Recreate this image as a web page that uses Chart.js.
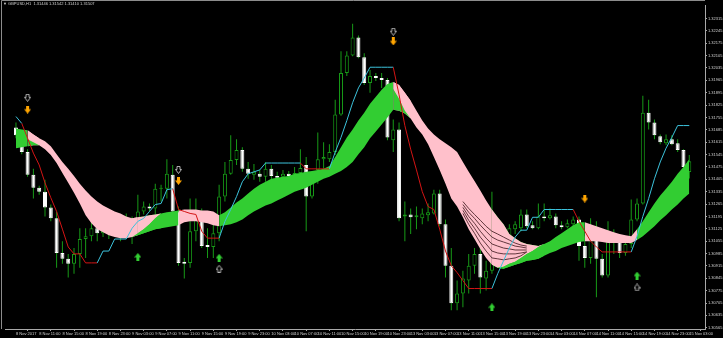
<!DOCTYPE html>
<html>
<head>
<meta charset="utf-8">
<script src="https://cdn.jsdelivr.net/npm/chart.js@4.4.1/dist/chart.umd.min.js"></script>
<style>
    html, body { margin: 0; padding: 0; background: #000; }
    #chart { display: block; background: #000; }
</style>
</head>
<body>
<canvas id="chart" width="723" height="338"></canvas>
<script>
// GBPUSD H1 candles, bar 0 = 8 Nov 2017 07:00 (weekend skipped after bar 64)
const openPrices = [
    1.31698, 1.31648, 1.31559, 1.31430, 1.31357, 1.31335, 1.31246, 1.31184, 1.30988, 1.30955,
    1.30927, 1.30983, 1.31067, 1.31083, 1.31128, 1.31100, 1.31139, 1.31111, 1.31156, 1.31134,
    1.31167, 1.31145, 1.31223, 1.31251, 1.31240, 1.31352, 1.31352, 1.31430, 1.31223, 1.30938,
    1.30932, 1.31111, 1.31195, 1.31033, 1.31022, 1.31100, 1.31307, 1.31436, 1.31514, 1.31570,
    1.31464, 1.31430, 1.31436, 1.31419, 1.31464, 1.31424, 1.31419, 1.31436, 1.31424, 1.31441,
    1.31486, 1.31307, 1.31458, 1.31519, 1.31519, 1.31559, 1.31771, 1.32006, 1.32106, 1.32207,
    1.32095, 1.31950, 1.31989, 1.31978, 1.31967, 1.31626, 1.31687, 1.31195, 1.31206, 1.31190,
    1.31184, 1.31201, 1.31212, 1.31324, 1.31150, 1.30916, 1.30703, 1.30759, 1.30832, 1.30916,
    1.30983, 1.30843, 1.30888, 1.31083, 1.30999, 1.31055, 1.31123, 1.31128, 1.31206, 1.31145,
    1.31128, 1.31195, 1.31184, 1.31195, 1.31145, 1.31134, 1.31150, 1.31178, 1.31027, 1.30960,
    1.31123, 1.30955, 1.30860, 1.31100, 1.31055, 1.30988, 1.31039, 1.31178, 1.31268, 1.31782,
    1.31726, 1.31648, 1.31609, 1.31631, 1.31609, 1.31570, 1.31446
];
const highPrices = [
    1.31726, 1.31670, 1.31575, 1.31464, 1.31368, 1.31402, 1.31262, 1.31223, 1.31055, 1.30983,
    1.31016, 1.31128, 1.31128, 1.31184, 1.31167, 1.31178, 1.31190, 1.31201, 1.31206, 1.31212,
    1.31195, 1.31318, 1.31279, 1.31268, 1.31380, 1.31374, 1.31519, 1.31486, 1.31251, 1.30960,
    1.31296, 1.31296, 1.31240, 1.31128, 1.31206, 1.31374, 1.31503, 1.31654, 1.31631, 1.31586,
    1.31503, 1.31491, 1.31458, 1.31503, 1.31486, 1.31447, 1.31458, 1.31452, 1.31475, 1.31575,
    1.31531, 1.31436, 1.31670, 1.31614, 1.31603, 1.31855, 1.32129, 1.32129, 1.32285, 1.32218,
    1.32118, 1.32023, 1.32006, 1.32006, 1.31978, 1.31743, 1.31726, 1.31279, 1.31240, 1.31251,
    1.31240, 1.31268, 1.31346, 1.31346, 1.31178, 1.31016, 1.30832, 1.30888, 1.30983, 1.31016,
    1.31016, 1.30944, 1.31335, 1.31139, 1.31083, 1.31150, 1.31167, 1.31234, 1.31234, 1.31167,
    1.31268, 1.31268, 1.31240, 1.31212, 1.31167, 1.31178, 1.31195, 1.31195, 1.31083, 1.31184,
    1.31167, 1.30983, 1.31167, 1.31123, 1.31095, 1.31055, 1.31290, 1.31296, 1.31877, 1.31855,
    1.31743, 1.31659, 1.31659, 1.31654, 1.31631, 1.31575, 1.31542
];
const lowPrices = [
    1.31637, 1.31547, 1.31419, 1.31296, 1.31318, 1.31195, 1.31167, 1.30905, 1.30927, 1.30849,
    1.30871, 1.30905, 1.30960, 1.31055, 1.31055, 1.31078, 1.31067, 1.31083, 1.31055, 1.31067,
    1.31039, 1.31111, 1.31206, 1.31223, 1.31206, 1.31279, 1.31296, 1.31212, 1.30916, 1.30843,
    1.30905, 1.31055, 1.31016, 1.30960, 1.30960, 1.31055, 1.31279, 1.31430, 1.31486, 1.31447,
    1.31408, 1.31402, 1.31391, 1.31391, 1.31402, 1.31402, 1.31402, 1.31413, 1.31402, 1.31408,
    1.31111, 1.31296, 1.31380, 1.31464, 1.31503, 1.31542, 1.31765, 1.31989, 1.32101, 1.32090,
    1.31939, 1.31894, 1.31961, 1.31922, 1.31626, 1.31559, 1.31167, 1.31055, 1.31095, 1.31123,
    1.31150, 1.31167, 1.31206, 1.31139, 1.30849, 1.30664, 1.30664, 1.30681, 1.30759, 1.30871,
    1.30759, 1.30776, 1.30871, 1.30972, 1.30955, 1.31039, 1.31095, 1.31111, 1.31128, 1.31123,
    1.31123, 1.31167, 1.31178, 1.31128, 1.31123, 1.31128, 1.31139, 1.30944, 1.30905, 1.30927,
    1.30737, 1.30849, 1.30849, 1.30983, 1.30960, 1.30972, 1.31016, 1.31167, 1.31262, 1.31687,
    1.31631, 1.31603, 1.31598, 1.31598, 1.31559, 1.31458, 1.31410
];
const closePrices = [
    1.31654, 1.31559, 1.31430, 1.31357, 1.31335, 1.31246, 1.31184, 1.30988, 1.30955, 1.30927,
    1.30983, 1.31067, 1.31083, 1.31128, 1.31100, 1.31139, 1.31111, 1.31156, 1.31134, 1.31167,
    1.31145, 1.31223, 1.31251, 1.31240, 1.31352, 1.31357, 1.31436, 1.31223, 1.30932, 1.30927,
    1.31111, 1.31195, 1.31027, 1.31022, 1.31100, 1.31307, 1.31436, 1.31514, 1.31570, 1.31464,
    1.31436, 1.31447, 1.31419, 1.31464, 1.31424, 1.31413, 1.31436, 1.31424, 1.31441, 1.31469,
    1.31307, 1.31391, 1.31519, 1.31531, 1.31559, 1.31771, 1.32006, 1.32106, 1.32207, 1.32095,
    1.31950, 1.31989, 1.31978, 1.31967, 1.31642, 1.31687, 1.31184, 1.31206, 1.31190, 1.31201,
    1.31212, 1.31218, 1.31324, 1.31150, 1.30916, 1.30703, 1.30759, 1.30843, 1.30916, 1.30983,
    1.30849, 1.30888, 1.31083, 1.30999, 1.31055, 1.31128, 1.31150, 1.31206, 1.31139, 1.31128,
    1.31195, 1.31184, 1.31201, 1.31145, 1.31134, 1.31156, 1.31178, 1.31027, 1.30960, 1.31123,
    1.30955, 1.30860, 1.31100, 1.31055, 1.30988, 1.31039, 1.31178, 1.31268, 1.31782, 1.31726,
    1.31654, 1.31614, 1.31631, 1.31603, 1.31570, 1.31475, 1.31507
];

// moving-average ribbon: upper and lower edge
const ribbonTop = [
    1.31693, 1.31687, 1.31682, 1.31659, 1.31637, 1.31620, 1.31592, 1.31547, 1.31503, 1.31464,
    1.31424, 1.31380, 1.31341, 1.31307, 1.31279, 1.31257, 1.31240, 1.31223, 1.31212, 1.31195,
    1.31184, 1.31190, 1.31195, 1.31201, 1.31206, 1.31212, 1.31218, 1.31223, 1.31229, 1.31234,
    1.31234, 1.31234, 1.31229, 1.31229, 1.31223, 1.31201, 1.31218, 1.31246, 1.31273, 1.31296,
    1.31324, 1.31352, 1.31374, 1.31391, 1.31408, 1.31413, 1.31419, 1.31424, 1.31436, 1.31441,
    1.31447, 1.31452, 1.31458, 1.31464, 1.31480, 1.31531, 1.31586, 1.31642, 1.31687, 1.31737,
    1.31782, 1.31832, 1.31872, 1.31911, 1.31944, 1.31955, 1.31939, 1.31894, 1.31849, 1.31793,
    1.31737, 1.31693, 1.31659, 1.31631, 1.31609, 1.31586, 1.31559, 1.31503, 1.31447, 1.31396,
    1.31341, 1.31285, 1.31234, 1.31190, 1.31150, 1.31095, 1.31072, 1.31050, 1.31039, 1.31033,
    1.31027, 1.31039, 1.31055, 1.31078, 1.31100, 1.31123, 1.31145, 1.31162, 1.31162, 1.31150,
    1.31139, 1.31128, 1.31117, 1.31106, 1.31095, 1.31089, 1.31083, 1.31123, 1.31167, 1.31218,
    1.31268, 1.31313, 1.31352, 1.31391, 1.31436, 1.31475, 1.31519
];
const ribbonBottom = [
    1.31581, 1.31586, 1.31592, 1.31598, 1.31598, 1.31575, 1.31542, 1.31497, 1.31441, 1.31385,
    1.31329, 1.31268, 1.31201, 1.31156, 1.31123, 1.31106, 1.31089, 1.31078, 1.31072, 1.31072,
    1.31078, 1.31089, 1.31100, 1.31111, 1.31123, 1.31128, 1.31134, 1.31139, 1.31145, 1.31162,
    1.31167, 1.31167, 1.31162, 1.31156, 1.31145, 1.31139, 1.31145, 1.31150, 1.31162, 1.31178,
    1.31201, 1.31223, 1.31240, 1.31257, 1.31268, 1.31285, 1.31301, 1.31318, 1.31335, 1.31346,
    1.31357, 1.31374, 1.31391, 1.31408, 1.31419, 1.31436, 1.31452, 1.31475, 1.31503, 1.31547,
    1.31586, 1.31637, 1.31676, 1.31715, 1.31754, 1.31799, 1.31793, 1.31777, 1.31749, 1.31698,
    1.31659, 1.31603, 1.31531, 1.31458, 1.31380, 1.31296, 1.31251, 1.31190, 1.31123, 1.31067,
    1.31011, 1.30960, 1.30921, 1.30905, 1.30899, 1.30910, 1.30921, 1.30932, 1.30944, 1.30949,
    1.30955, 1.30972, 1.30988, 1.30999, 1.31016, 1.31027, 1.31039, 1.31050, 1.31055, 1.31055,
    1.31055, 1.31050, 1.31044, 1.31044, 1.31044, 1.31044, 1.31044, 1.31061, 1.31083, 1.31111,
    1.31139, 1.31173, 1.31201, 1.31234, 1.31262, 1.31296, 1.31324
];
// where the ribbon is half turned: pink above this level, green below it
const splitBars = [2, 3, 4, 20, 21, 22, 23, 24, 25, 65, 66, 67, 68,
    82, 83, 84, 85, 86, 87, 88, 89, 90, 91];
const splitPrices = [1.31631, 1.31614, 1.31598, 1.31078, 1.31100, 1.31123, 1.31150, 1.31184,
    1.31212, 1.31916, 1.31860, 1.31793, 1.31749, 1.30921, 1.30905, 1.30910, 1.30927, 1.30938,
    1.30960, 1.30983, 1.30999, 1.31022, 1.31039];
// darker inner averages showing through the pink fan, bars 77..88
const fanStart = 77;
const fanLines = [
    [1.31279, 1.31240, 1.31206, 1.31173, 1.31139, 1.31111, 1.31095, 1.31078, 1.31061, 1.31044, 1.31033, 1.31027],
    [1.31262, 1.31218, 1.31184, 1.31145, 1.31111, 1.31078, 1.31061, 1.31050, 1.31039, 1.31027, 1.31022, 1.31016],
    [1.31246, 1.31195, 1.31156, 1.31111, 1.31072, 1.31039, 1.31027, 1.31016, 1.31011, 1.31005, 1.31005, 1.31005],
    [1.31229, 1.31173, 1.31128, 1.31078, 1.31039, 1.30999, 1.30988, 1.30983, 1.30983, 1.30983, 1.30988, 1.30994],
    [1.31212, 1.31150, 1.31100, 1.31044, 1.30999, 1.30960, 1.30955, 1.30949, 1.30955, 1.30960, 1.30972, 1.30994]
];

// trailing stop line, switches colour at these bars
const stopLine = [
    1.31760, 1.31721, 1.31637, 1.31553, 1.31486, 1.31385, 1.31301, 1.31223, 1.31123, 1.31022,
    1.30983, 1.30983, 1.30932, 1.30932, 1.30932, 1.30999, 1.30999, 1.31067, 1.31067, 1.31067,
    1.31128, 1.31167, 1.31184, 1.31223, 1.31262, 1.31268, 1.31346, 1.31352, 1.31234, 1.31223,
    1.31212, 1.31206, 1.31111, 1.31072, 1.31072, 1.31072, 1.31167, 1.31234, 1.31307, 1.31391,
    1.31436, 1.31447, 1.31458, 1.31497, 1.31497, 1.31497, 1.31497, 1.31497, 1.31497, 1.31497,
    1.31464, 1.31464, 1.31464, 1.31464, 1.31464, 1.31559, 1.31642, 1.31737, 1.31838, 1.31922,
    1.31978, 1.32039, 1.32039, 1.32039, 1.32039, 1.32039, 1.31883, 1.31709, 1.31575, 1.31458,
    1.31335, 1.31251, 1.31234, 1.31123, 1.30999, 1.30916, 1.30877, 1.30832, 1.30787, 1.30787,
    1.30787, 1.30787, 1.30787, 1.30871, 1.30944, 1.31016, 1.31078, 1.31117, 1.31117, 1.31190,
    1.31190, 1.31234, 1.31234, 1.31234, 1.31234, 1.31234, 1.31234, 1.31167, 1.31111, 1.31055,
    1.31022, 1.30994, 1.30994, 1.30994, 1.30994, 1.30994, 1.30994, 1.31083, 1.31195, 1.31296,
    1.31408, 1.31503, 1.31581, 1.31642, 1.31709, 1.31709, 1.31709
];
const stopFlips = [1, 14, 27, 35, 49, 54, 65, 82, 96, 106];

// signal arrows
const buyBars = [21, 35, 82, 107];
const buyArrowPrices = [1.30966, 1.30961, 1.30681, 1.30860];
const sellBars = [2, 28, 65, 98];
const sellArrowPrices = [1.31799, 1.31396, 1.32185, 1.31296];
const hollowUpBars = [35, 107];
const hollowUpPrices = [1.30899, 1.30793];
const hollowDownBars = [2, 28, 65];
const hollowDownPrices = [1.31866, 1.31458, 1.32240];

const timeLabels = ['8 Nov 2017', '8 Nov 11:00', '8 Nov 15:00', '8 Nov 19:00', '8 Nov 23:00',
    '9 Nov 03:00', '9 Nov 07:00', '9 Nov 11:00', '9 Nov 15:00', '9 Nov 19:00', '9 Nov 23:00',
    '10 Nov 03:00', '10 Nov 07:00', '10 Nov 11:00', '10 Nov 15:00', '10 Nov 19:00', '10 Nov 23:00',
    '13 Nov 03:00', '13 Nov 07:00', '13 Nov 11:00', '13 Nov 15:00', '13 Nov 19:00', '13 Nov 23:00',
    '14 Nov 03:00', '14 Nov 07:00', '14 Nov 11:00', '14 Nov 15:00', '14 Nov 19:00', '14 Nov 23:00',
    '15 Nov 03:00'];
const priceTicks = [1.30565, 1.30635, 1.30705, 1.30775, 1.30845, 1.30915, 1.30985, 1.31055,
    1.31125, 1.31195, 1.31265, 1.31335, 1.31405, 1.31475, 1.31545, 1.31615, 1.31685, 1.31755,
    1.31825, 1.31895, 1.31965, 1.32035, 1.32105, 1.32175, 1.32245, 1.32315];

const headerText = '\u25BC GBPUSD,H1  1.31446 1.31542 1.31410 1.31507';

// colours
const GREEN = '#179a17';
const LIME = '#32cd32';
const PINK = '#ffc0cb';
const AXIS = '#a8a8a8';
const TEXT = '#d0d0d0';

const bars = openPrices.map((_, i) => i);
const tickBars = timeLabels.map((_, k) => k * 4);

// trend of the ribbon at a bar, from the last signal arrow
function ribbonUp(i) {
    let last = -1, up = true;
    buyBars.forEach(b => { if (b <= i && b > last) { last = b; up = true; } });
    sellBars.forEach(b => { if (b <= i && b > last) { last = b; up = false; } });
    return up;
}

function stopColor(i) {
    const n = stopFlips.filter(b => b <= i).length;
    return n % 2 === 0 ? '#3cc3dc' : '#d41414';
}

// little block arrows used as point styles
function makeArrow(color, up, hollow) {
    const c = document.createElement('canvas');
    c.width = 7; c.height = 8;
    const g = c.getContext('2d');
    const pts = hollow
        ? [[2, 0.5], [5, 0.5], [5, 3.5], [6.5, 3.5], [3.5, 7.5], [0.5, 3.5], [2, 3.5]]
        : [[2, 0], [5, 0], [5, 3.5], [7, 3.5], [3.5, 8], [0, 3.5], [2, 3.5]];
    g.beginPath();
    pts.forEach(([x, y], k) => {
        const yy = up ? 8 - y : y;
        if (k === 0) g.moveTo(x, yy); else g.lineTo(x, yy);
    });
    g.closePath();
    if (hollow) {
        g.strokeStyle = color; g.lineWidth = 1; g.stroke();
    } else {
        g.fillStyle = color; g.fill();
    }
    return c;
}

// frame lines and the symbol header
const framePlugin = {
    id: 'frame',
    afterDraw(chart) {
        const ctx = chart.ctx;
        ctx.save();
        ctx.strokeStyle = '#8c8c8c';
        ctx.lineWidth = 1;
        ctx.beginPath();
        ctx.moveTo(1.5, chart.chartArea.bottom);
        ctx.lineTo(1.5, 0.5);
        ctx.lineTo(chart.chartArea.right, 0.5);
        ctx.stroke();
        ctx.fillStyle = TEXT;
        ctx.font = '4px "Liberation Sans"';
        ctx.textBaseline = 'middle';
        ctx.fillText(headerText, 3, 4);
        ctx.restore();
    }
};

const pointSet = (xs, ys) => xs.map((x, k) => ({ x: x, y: ys[k] }));
const splitData = bars.map(i => {
    const k = splitBars.indexOf(i);
    return { x: i, y: k < 0 ? null : splitPrices[k] };
});

const fanSets = fanLines.map(line => ({
    type: 'line', order: 3.2,
    data: line.map((v, k) => ({ x: fanStart + k, y: v })),
    borderColor: 'rgba(70, 30, 36, 0.85)', borderWidth: 1, pointRadius: 0, fill: false
}));

new Chart(document.getElementById('chart'), {
    type: 'bar',
    data: {
        datasets: [
            {
                type: 'line', order: 0, showLine: false,
                data: pointSet(sellBars, sellArrowPrices),
                pointStyle: makeArrow('#ffa500', false, false), pointRadius: 3
            },
            {
                type: 'line', order: 0, showLine: false,
                data: pointSet(buyBars, buyArrowPrices),
                pointStyle: makeArrow(LIME, true, false), pointRadius: 3
            },
            {
                type: 'line', order: 0, showLine: false,
                data: pointSet(hollowDownBars, hollowDownPrices),
                pointStyle: makeArrow('#b4b4b4', false, true), pointRadius: 3
            },
            {
                type: 'line', order: 0, showLine: false,
                data: pointSet(hollowUpBars, hollowUpPrices),
                pointStyle: makeArrow('#b4b4b4', true, true), pointRadius: 3
            },
            {
                type: 'line', order: 2,
                data: bars.map(i => ({ x: i, y: stopLine[i] })),
                borderWidth: 1, pointRadius: 0, fill: false,
                borderColor: '#3cc3dc',
                segment: { borderColor: ctx => stopColor(ctx.p0DataIndex) }
            },
            {
                // index 5: ribbon upper edge, filled down to the lower edge
                type: 'line', order: 4,
                data: bars.map(i => ({ x: i, y: ribbonTop[i] })),
                borderColor: 'transparent', borderWidth: 1, pointRadius: 0,
                backgroundColor: LIME,
                fill: '+1',
                segment: { backgroundColor: ctx => ribbonUp(ctx.p0DataIndex) ? LIME : PINK }
            },
            {
                // index 6: ribbon lower edge
                type: 'line', order: 4.5,
                data: bars.map(i => ({ x: i, y: ribbonBottom[i] })),
                borderColor: 'transparent', borderWidth: 1, pointRadius: 0, fill: false
            },
            {
                // half-turned part: pink on top
                type: 'line', order: 3.8,
                data: splitData,
                borderColor: 'transparent', borderWidth: 1, pointRadius: 0,
                backgroundColor: PINK, fill: { target: 5 }
            },
            {
                // half-turned part: green underneath
                type: 'line', order: 3.0,
                data: splitData,
                borderColor: 'transparent', borderWidth: 1, pointRadius: 0,
                backgroundColor: LIME, fill: { target: 6 }
            },
            ...fanSets,
            {
                // candle bodies: hollow for up bars, white for down bars
                order: 5, grouped: false, maxBarThickness: 4, minBarLength: 1,
                data: bars.map(i => ({ x: i, y: [openPrices[i], closePrices[i]] })),
                backgroundColor: bars.map(i => closePrices[i] >= openPrices[i] ? '#000000' : '#ffffff'),
                borderColor: bars.map(i => closePrices[i] >= openPrices[i] ? GREEN : '#ffffff'),
                borderWidth: 1, borderSkipped: false
            },
            {
                // wicks
                order: 6, grouped: false, maxBarThickness: 1,
                data: bars.map(i => ({ x: i, y: [lowPrices[i], highPrices[i]] })),
                backgroundColor: GREEN, borderWidth: 0
            }
        ]
    },
    options: {
        responsive: false,
        animation: false,
        devicePixelRatio: 1,
        layout: { padding: { left: 2, top: 1, right: 0, bottom: 0 } },
        elements: { line: { tension: 0 } },
        plugins: { legend: { display: false }, tooltip: { enabled: false } },
        scales: {
            x: {
                type: 'linear', position: 'bottom',
                min: 0.12, max: 116.7,
                afterBuildTicks: axis => { axis.ticks = tickBars.map(v => ({ value: v })); },
                afterFit: axis => { axis.height = 9; axis.paddingLeft = 0; axis.paddingRight = 0; },
                ticks: {
                    autoSkip: false, maxRotation: 0, align: 'start', padding: 0,
                    color: TEXT, font: { family: 'Liberation Sans', size: 4 },
                    callback: v => timeLabels[tickBars.indexOf(v)]
                },
                grid: { drawOnChartArea: false, drawTicks: true, tickLength: 2, color: AXIS },
                border: { display: true, color: AXIS }
            },
            y: {
                type: 'linear', position: 'right',
                min: 1.30558, max: 1.32391,
                afterBuildTicks: axis => { axis.ticks = priceTicks.map(v => ({ value: v })); },
                afterFit: axis => { axis.width = 18; axis.paddingTop = 0; axis.paddingBottom = 0; },
                ticks: {
                    autoSkip: false, padding: 1,
                    color: TEXT, font: { family: 'Liberation Sans', size: 4 },
                    callback: v => v.toFixed(5)
                },
                grid: { drawOnChartArea: false, drawTicks: true, tickLength: 2, color: AXIS },
                border: { display: true, color: AXIS }
            }
        }
    },
    plugins: [framePlugin]
});
</script>
</body>
</html>
